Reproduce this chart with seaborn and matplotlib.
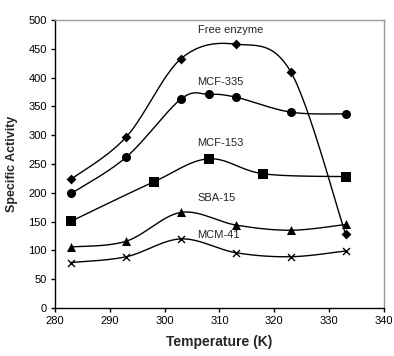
import numpy as np
import pandas as pd
import seaborn as sns
import matplotlib.pyplot as plt

# temperatures (K) and specific activity for each preparation
free_t = [283, 293, 303, 313, 323, 333]
free_v = [224, 297, 433, 458, 410, 128]
mcf335_t = [283, 293, 303, 308, 313, 323, 333]
mcf335_v = [199, 262, 363, 371, 366, 340, 337]
mcf153_t = [283, 298, 308, 318, 333]
mcf153_v = [151, 219, 259, 233, 228]
sba15_t = [283, 293, 303, 313, 323, 333]
sba15_v = [106, 116, 166, 144, 135, 145]
mcm41_t = [283, 293, 303, 313, 323, 333]
mcm41_v = [79, 89, 120, 96, 89, 99]

series = [
    ("Free enzyme", free_t, free_v, "D", 5),
    ("MCF-335", mcf335_t, mcf335_v, "o", 6.5),
    ("MCF-153", mcf153_t, mcf153_v, "s", 6.5),
    ("SBA-15", sba15_t, sba15_v, "^", 6.5),
    ("MCM-41", mcm41_t, mcm41_v, "x", 5),
]
label_pos = {"Free enzyme": 483, "MCF-335": 392, "MCF-153": 286,
             "SBA-15": 191, "MCM-41": 127}


def smooth(xs, ys, n=30):
    # Excel-style smoothed line: cubic bezier with catmull-rom control points
    p = np.column_stack([xs, ys]).astype(float)
    p = np.vstack([p[0], p, p[-1]])
    out = []
    for i in range(1, len(p) - 2):
        p0, p1, p2, p3 = p[i - 1], p[i], p[i + 1], p[i + 2]
        c1 = p1 + (p2 - p0) / 6
        c2 = p2 - (p3 - p1) / 6
        t = np.linspace(0, 1, n)[:, None]
        seg = ((1 - t) ** 3 * p1 + 3 * (1 - t) ** 2 * t * c1
               + 3 * (1 - t) * t ** 2 * c2 + t ** 3 * p2)
        out.append(seg if i == 1 else seg[1:])
    out = np.vstack(out)
    return out[:, 0], out[:, 1]


sns.set_style("white")
plt.rcParams["font.family"] = ["Liberation Sans", "DejaVu Sans"]

fig = plt.figure(figsize=(3.94, 3.56), dpi=100)
ax = fig.add_axes([0.1396, 0.1348, 0.835, 0.809])

for name, t, v, mk, ms in series:
    sx, sy = smooth(t, v)
    ax.plot(sx, sy, color="black", lw=1.0, zorder=2)
    df = pd.DataFrame({"T": t, "A": v})
    sns.scatterplot(data=df, x="T", y="A", marker=mk, s=ms ** 2,
                    color="black", edgecolor="black",
                    linewidth=1.0 if mk == "x" else 0, ax=ax, zorder=3)
    ax.text(306, label_pos[name], name, fontsize=8, ha="left", va="center")

ax.set_xlim(280, 340)
ax.set_ylim(0, 500)
ax.set_xticks(range(280, 341, 10))
ax.set_yticks(range(0, 501, 50))
ax.tick_params(direction="out", length=3, width=1, labelsize=8, pad=3,
               colors="black", bottom=True, left=True)
for side in ["left", "bottom"]:
    ax.spines[side].set_color("black")
    ax.spines[side].set_linewidth(1)
for side in ["top", "right"]:
    ax.spines[side].set_color("#999999")
    ax.spines[side].set_linewidth(1)
ax.set_xlabel("Temperature (K)", fontsize=10, fontweight="bold", labelpad=6)
ax.set_ylabel("Specific Activity", fontsize=9, fontweight="bold", labelpad=7)

fig.savefig("out.png", dpi=100)
